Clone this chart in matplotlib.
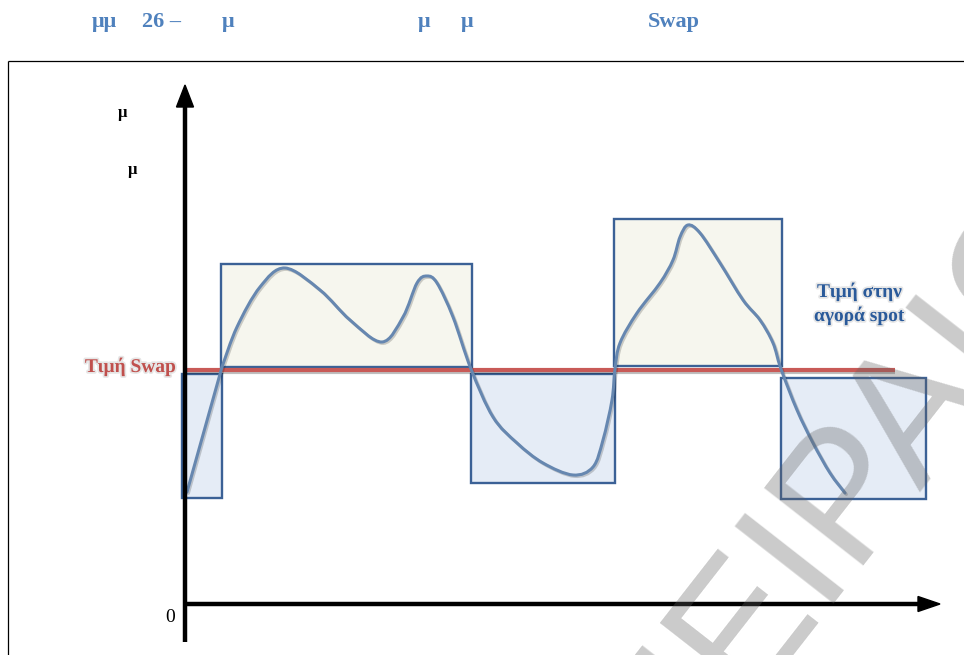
import numpy as np
import matplotlib
matplotlib.use("Agg")
import matplotlib.pyplot as plt
from matplotlib.path import Path
from matplotlib.patches import PathPatch, Rectangle, FancyArrow
import matplotlib.patheffects as pe

# ---------------- data (time units, price units above the time axis) ----------------
period_start = [-3, 36, 286, 429, 596]
period_end = [37, 287, 430, 597, 741]
box_bottom = [106, 237, 121, 238, 105]
box_top = [230, 340, 230, 385, 226]
box_kind = ["below", "above", "below", "above", "below"]

swap_price = 234
swap_start, swap_end = -2, 710

spot_t = [2, 37, 52, 75, 100, 135, 165, 197, 218, 232, 242, 252, 268, 286,
          308, 332, 358, 388, 408, 418, 427, 430, 435, 452, 475, 488, 495,
          503, 515, 535, 558, 575, 588, 596, 612, 628, 645, 660]
spot_p = [112, 237, 277, 317, 336, 314, 284, 262, 287, 321, 328, 321, 287, 235,
          187, 161, 141, 129, 137, 164, 204, 235, 261, 291, 321, 344, 367,
          379, 371, 341, 304, 284, 261, 235, 194, 161, 131, 111]

title_parts = ["μμ", "26 –", "μ", "μ", "μ", "Swap"]
y_labels = ["μ", "μ"]
swap_label = "Τιμή Swap"
spot_label = ["Τιμή στην", "αγορά spot"]
watermark = "ΠΕΙΡΑΙΩΣ"

# ---------------- figure ----------------
W, H = 964, 655
fig = plt.figure(figsize=(W / 100, H / 100), dpi=100)
ax = fig.add_axes([0, 0, 1, 1])
ax.set_xlim(-185, W - 185)
ax.set_ylim(-(H - 604), 604)
ax.axis("off")

def fx(px):
    return px / W

def fy(py):
    return 1 - py / H

serif = ["Liberation Serif", "DejaVu Serif"]

# frame lines of the scanned figure
ax.plot([-177, W - 185], [543, 543], color="black", lw=0.9, solid_capstyle="butt")
ax.plot([-177, -177], [543, -(H - 604)], color="black", lw=0.9, solid_capstyle="butt")

# boxes
for s, e, b, t, k in zip(period_start, period_end, box_bottom, box_top, box_kind):
    fc = "#e5ecf6" if k == "below" else "#f6f6ee"
    ax.add_patch(Rectangle((s, b), e - s, t - b, facecolor=fc, edgecolor="#3b6196",
                           lw=1.7, zorder=2))

# swap price line
ax.plot([swap_start, swap_end], [swap_price, swap_price], color="#c85a57", lw=3.0,
        zorder=3, solid_capstyle="butt",
        path_effects=[pe.SimpleLineShadow(offset=(0, -1.5), alpha=0.25), pe.Normal()])

# spot price curve (straight first segment, then smooth Catmull-Rom as Bezier)
pts = np.column_stack([spot_t, spot_p]).astype(float)
verts = [tuple(pts[0]), tuple(pts[1])]
codes = [Path.MOVETO, Path.LINETO]
n = len(pts)
for i in range(1, n - 1):
    p0 = pts[i - 1] if i > 1 else pts[i]
    p1, p2 = pts[i], pts[i + 1]
    p3 = pts[i + 2] if i + 2 < n else pts[i + 1]
    c1 = p1 + (p2 - p0) / 6.0
    c2 = p2 - (p3 - p1) / 6.0
    verts += [tuple(c1), tuple(c2), tuple(p2)]
    codes += [Path.CURVE4] * 3
curve = PathPatch(Path(verts, codes), facecolor="none", edgecolor="#6687b0", lw=2.2,
                  zorder=4, capstyle="round",
                  path_effects=[pe.SimpleLineShadow(offset=(1, -1), alpha=0.18), pe.Normal()])
ax.add_patch(curve)

# axes arrows
ax.plot([0, 0], [-38, 500], color="black", lw=3.2, solid_capstyle="butt", zorder=5)
ax.add_patch(FancyArrow(0, 495, 0, 24, width=0.1, head_width=17, head_length=22,
                        length_includes_head=True, color="black", zorder=5))
ax.plot([0, 735], [0, 0], color="black", lw=3.2, solid_capstyle="butt", zorder=5)
ax.add_patch(FancyArrow(730, 0, 25, 0, width=0.1, head_width=15, head_length=22,
                        length_includes_head=True, color="black", zorder=5))

# axis texts
ax.text(-15, -14, "0", fontsize=14, family=serif, ha="center", va="center")
ax.text(122 - 185, 604 - 113, y_labels[0], fontsize=12, family=serif,
        fontweight="bold", ha="center", va="center")
ax.text(133 - 185, 604 - 170, y_labels[1], fontsize=12, family=serif,
        fontweight="bold", ha="center", va="center")

glow = [pe.withStroke(linewidth=2.5, foreground="#e6e6e6")]
ax.text(176 - 185, 604 - 367, swap_label, fontsize=14, family=serif, fontweight="bold",
        color="#c0504d", ha="right", va="center", path_effects=glow)
ax.text(817 - 185, 604 - 292, spot_label[0], fontsize=14, family=serif,
        fontweight="bold", color="#2a5a9a", ha="left", va="center", path_effects=glow)
ax.text(814 - 185, 604 - 316, spot_label[1], fontsize=14, family=serif,
        fontweight="bold", color="#2a5a9a", ha="left", va="center", path_effects=glow)

# title
title_x = [92, 142, 222, 418, 461, 648]
for txt, x in zip(title_parts, title_x):
    fig.text(fx(x), fy(22), txt, fontsize=16, family=serif, fontweight="bold",
             color="#4f81bd", ha="left", va="center")

# watermark
ax.text(479, -198, watermark, fontsize=130, family=["Liberation Sans", "DejaVu Sans"],
        color="#606060", alpha=0.33, rotation=52,
        rotation_mode="anchor", ha="left", va="baseline", zorder=6, clip_on=True)

fig.savefig("out.png", dpi=100)
